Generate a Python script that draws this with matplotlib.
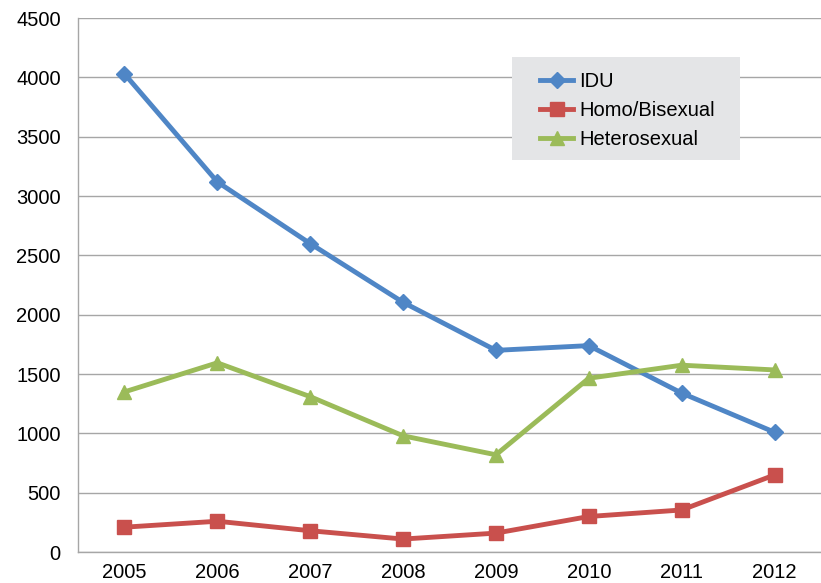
import matplotlib
matplotlib.use("Agg")
from matplotlib import pyplot as plt
from matplotlib.patches import Rectangle

years = ["2005", "2006", "2007", "2008", "2009", "2010", "2011", "2012"]
idu = [4030, 3120, 2600, 2105, 1700, 1740, 1340, 1010]
homo_bi = [210, 260, 180, 110, 160, 300, 355, 650]
hetero = [1350, 1595, 1310, 980, 820, 1465, 1575, 1535]

series = [
    ("IDU", idu, "#4f86c6", "D", 8),
    ("Homo/Bisexual", homo_bi, "#c9504d", "s", 10),
    ("Heterosexual", hetero, "#9bbb59", "^", 10),
]

plt.rcParams['font.family'] = ['Liberation Sans', 'DejaVu Sans']

fig = plt.figure(figsize=(8.21, 5.83), dpi=100)
ax = fig.add_axes([0.095, 0.053, 0.905, 0.916])

x = list(range(len(years)))
for name, vals, color, marker, ms in series:
    ax.plot(x, vals, color=color, lw=3.5, marker=marker, markersize=ms,
            markeredgecolor=color, label=name, zorder=3)

ax.set_xlim(-0.5, len(years) - 0.5)
ax.set_ylim(0, 4500)
ax.set_yticks(range(0, 4501, 500))
ax.set_xticks(x)
ax.set_xticklabels(years)
ax.tick_params(axis='y', length=0, labelsize=14.5, pad=12.5)
ax.tick_params(axis='x', length=0, labelsize=14.5, pad=8)
ax.yaxis.grid(True, color="#a6a6a6", lw=1)
ax.set_axisbelow(True)

for side in ["top", "right"]:
    ax.spines[side].set_visible(False)
for side in ["left", "bottom"]:
    ax.spines[side].set_color("#a6a6a6")
    ax.spines[side].set_linewidth(1)

# legend background box
ax.add_patch(Rectangle((0.584, 0.734), 0.307, 0.193, transform=ax.transAxes,
                       facecolor="#e4e5e7", edgecolor="none", zorder=4))
leg = ax.legend(loc="upper left", bbox_to_anchor=(0.622, 0.899), fontsize=14.5,
                frameon=False, handlelength=1.65, borderpad=0,
                labelspacing=0.5, handletextpad=0.3, borderaxespad=0)
leg.set_zorder(5)

fig.savefig("out.png", dpi=100)
